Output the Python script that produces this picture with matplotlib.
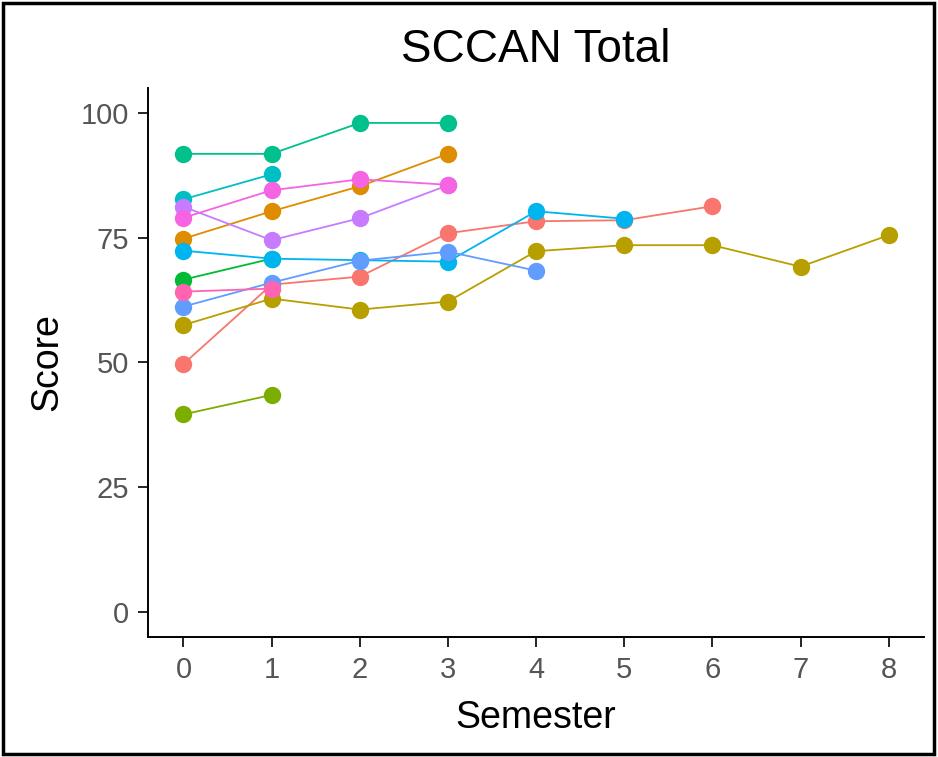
import matplotlib
matplotlib.use("Agg")
import matplotlib.pyplot as plt
from matplotlib.patches import Rectangle

plt.rcParams['font.family'] = ['Liberation Sans', 'DejaVu Sans']

# scores per student, one entry per semester starting at semester 0
s01 = [49.7, 65.6, 67.2, 75.9, 78.3, 78.5, 81.3]
s02 = [74.8, 80.3, 85.3, 91.8]
s03 = [57.5, 62.8, 60.6, 62.2, 72.3, 73.5, 73.5, 69.2, 75.5]
s04 = [39.6, 43.5]
s05 = [66.6, 70.8]
s06 = [91.8, 91.8, 98.0, 98.0]
s07 = [82.7, 87.7]
s08 = [72.4, 70.8, 70.5, 70.2, 80.3, 78.8]
s09 = [61.2, 66.0, 70.4, 72.2, 68.4]
s10 = [81.2, 74.5, 78.9, 85.5]
s11 = [79.0, 84.5, 86.7, 85.6]
s12 = [64.2, 64.8]

students = [s01, s02, s03, s04, s05, s06, s07, s08, s09, s10, s11, s12]
colours = ['#F8766D', '#DE8C00', '#B79F00', '#7CAE00', '#00BA38', '#00C08B',
           '#00BFC4', '#00B4F0', '#619CFF', '#C77CFF', '#F564E3', '#FF64B0']

x_ticks = [0, 1, 2, 3, 4, 5, 6, 7, 8]
y_ticks = [0, 25, 50, 75, 100]

fig = plt.figure(figsize=(9.38, 7.57), dpi=100)
ax = fig.add_axes([0.158, 0.1585, 0.827, 0.7253])

# lines first, then points on top (like geom_line + geom_point)
for sc, col in zip(students, colours):
    ax.plot(range(len(sc)), sc, color=col, lw=1.3, zorder=2)
for sc, col in zip(students, colours):
    ax.plot(range(len(sc)), sc, 'o', color=col, ms=12.5, mec='none', zorder=3)

ax.set_xlim(-0.4, 8.4)
ax.set_ylim(-5, 105)
ax.set_xticks(x_ticks)
ax.set_yticks(y_ticks)
for side in ['top', 'right']:
    ax.spines[side].set_visible(False)
for side in ['left', 'bottom']:
    ax.spines[side].set_linewidth(1.4)
ax.tick_params(length=7, width=1.2, labelsize=21, labelcolor='#555555', pad=7)

ax.set_xlabel('Semester', fontsize=27, labelpad=11)
ax.set_ylabel('Score', fontsize=27, labelpad=11)
fig.text(0.5714, 0.934, 'SCCAN Total', fontsize=33, ha='center', va='center')

fig.add_artist(Rectangle((0.003, 0.004), 0.993, 0.992, transform=fig.transFigure,
                         fill=False, lw=2.5, ec='black'))

fig.savefig('out.png', dpi=100)
